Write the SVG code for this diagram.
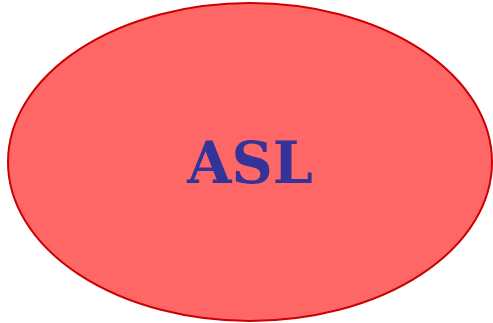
<svg xmlns="http://www.w3.org/2000/svg" width="493" height="323" viewBox="0 0 493 323">
<style>
.node{fill:#ff6666;stroke:#cc0000;stroke-width:2}
.label{font-family:"DejaVu Serif",serif;font-weight:bold;font-size:57px;fill:#333399;text-anchor:middle}
</style>
<rect width="493" height="323" fill="#ffffff"/>
<g id="connectors"></g>
<g id="node-asl">
<ellipse class="node" cx="250" cy="162" rx="242" ry="159"/>
<text class="label" x="250" y="183">ASL</text>
</g>
</svg>
